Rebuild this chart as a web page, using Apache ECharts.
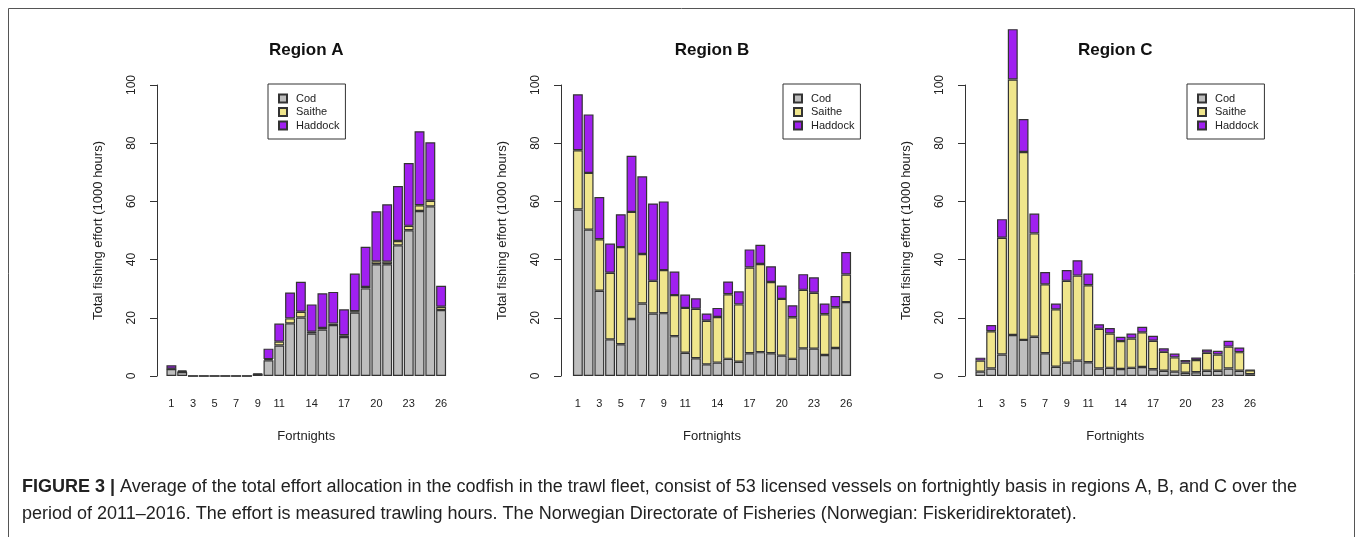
<!DOCTYPE html>
<html>
<head>
<meta charset="utf-8">
<script src="https://cdn.jsdelivr.net/npm/echarts@6/dist/echarts.min.js"></script>
<style>
html,body{margin:0;padding:0;background:#fff;}
#chart{width:1357px;height:537px;}
</style>
</head>
<body>
<div id="chart"></div>
<script>
const fortnights = ['1','2','3','4','5','6','7','8','9','10','11','12','13','14','15','16','17','18','19','20','21','22','23','24','25','26'];
const shownTicks = ['1','3','5','7','9','11','14','17','20','23','26'];
const speciesNames = ['Cod','Saithe','Haddock'];
const regionTitles = ['Region A','Region B','Region C'];

const codA     = [2.4,1.4,0,0,0,0,0,0,0.5,5.4,10.5,18.1,20.1,14.6,16.0,17.5,13.4,21.8,30.1,38.4,38.4,44.9,50.1,56.7,58.3,22.7];
const saitheA  = [0.1,0.2,0,0,0,0,0,0,0.1,0.4,1.3,1.7,2.0,0.6,0.5,0.5,0.6,0.5,0.5,1.0,0.9,1.5,1.5,2.0,1.9,1.1];
const haddockA = [1.2,0.4,0,0,0,0,0,0,0.3,3.6,6.2,8.9,10.3,9.4,11.9,10.9,8.9,12.9,13.8,17.2,19.7,18.9,21.6,25.4,20.1,7.2];

const codB     = [57.2,50.3,29.3,12.6,10.9,19.6,24.9,21.5,21.6,13.7,8.0,6.1,4.0,4.6,5.9,4.9,7.8,8.2,7.8,7.0,5.9,9.5,9.4,7.2,9.6,25.4];
const saitheB  = [20.4,19.5,17.7,22.9,33.4,36.8,17.0,11.2,14.8,14.1,15.4,17.0,15.0,15.7,22.2,19.7,29.5,30.3,24.5,19.5,14.3,20.1,19.2,14.0,14.0,9.5];
const haddockB = [19.2,20.1,14.5,10.0,11.3,19.3,26.7,26.6,23.6,8.1,4.6,3.6,2.5,3.1,4.4,4.5,6.2,6.6,5.4,4.6,4.1,5.4,5.3,3.7,3.9,7.7];

const codC     = [1.5,2.6,7.4,14.1,12.4,13.5,7.8,3.2,4.6,5.3,4.7,2.6,2.8,2.4,2.8,3.1,2.3,1.8,1.5,1.1,1.3,1.8,1.8,2.6,1.8,0.6];
const saitheC  = [3.8,12.8,40.1,87.8,64.6,35.5,23.7,19.7,28.1,29.2,26.5,13.6,11.8,9.6,10.1,11.9,9.8,6.5,4.9,3.5,4.2,6.2,5.6,7.5,6.4,1.4];
const haddockC = [1.0,2.1,6.4,17.3,11.3,6.8,4.2,2.0,3.7,5.3,4.0,1.6,1.9,1.5,1.7,1.9,1.7,1.2,1.3,0.9,0.9,1.1,1.3,2.0,1.6,0.1];

const regionData = [[codA,saitheA,haddockA],[codB,saitheB,haddockB],[codC,saitheC,haddockC]];
const colors = ['#bebebe','#f0e68c','#a020f0'];

const FONT = '"Liberation Sans", Arial, Helvetica, sans-serif';
const grids = [
  {left:166, width:280.5, offset:9, legendLeft:268},
  {left:572.5, width:279, offset:11.5, legendLeft:783},
  {left:975, width:280.5, offset:10, legendLeft:1187}
];

const option = {
  animation:false,
  backgroundColor:'#fff',
  legend: grids.map((g,i)=>({
    data: speciesNames, orient:'vertical', left:g.legendLeft, top:84,
    itemWidth:8, itemHeight:8, itemGap:2.5, icon:'rect',
    borderColor:'#333', borderWidth:1, borderRadius:0,
    padding:[9,6,8,10], selectedMode:false,
    textStyle:{fontFamily:FONT, fontSize:11, color:'#222', padding:[0,0,0,4]}
  })),
  grid: grids.map(g=>({left:g.left, width:g.width, top:85, height:291})),
  xAxis: grids.map((g,i)=>({
    type:'category', gridIndex:i, data:fortnights,
    axisLine:{show:false}, axisTick:{show:false},
    axisLabel:{interval:0, margin:22, fontFamily:FONT, fontSize:11, color:'#222',
      formatter: v => shownTicks.includes(v) ? v : ''},
    name:'Fortnights', nameLocation:'middle', nameGap:54,
    nameTextStyle:{fontFamily:FONT, fontSize:13, color:'#222'}
  })),
  yAxis: grids.map((g,i)=>({
    type:'value', gridIndex:i, min:0, max:100, interval:20, offset:g.offset,
    axisLine:{show:true, lineStyle:{color:'#333', width:1}},
    axisTick:{show:true, length:7, lineStyle:{color:'#333'}},
    splitLine:{show:false},
    axisLabel:{rotate:90, margin:19, fontFamily:FONT, fontSize:12, color:'#222'},
    name:'Total fishing effort (1000 hours)', nameLocation:'middle', nameGap:52,
    nameTextStyle:{fontFamily:FONT, fontSize:13, color:'#222'}
  })),
  series: []
};

regionData.forEach((arrs, gi) => {
  arrs.forEach((vals, si) => {
    option.series.push({
      type:'bar', name:speciesNames[si], xAxisIndex:gi, yAxisIndex:gi,
      stack:'r'+gi, data:vals, barCategoryGap:'8%', clip:false,
      itemStyle:{color:colors[si], borderColor:'#333', borderWidth:1.2},
      emphasis:{disabled:true}
    });
  });
});

option.graphic = [
  {type:'rect', shape:{x:8.5, y:8.5, width:1346, height:540}, style:{fill:'none', stroke:'#555', lineWidth:1}, silent:true},
  ...grids.map((g,i)=>({type:'text', x:g.left + g.width/2, y:50, style:{
    text:regionTitles[i], textAlign:'center', textVerticalAlign:'middle',
    fontFamily:FONT, fontWeight:'bold', fontSize:17, fill:'#111'}})),
  {type:'text', x:22, y:487, style:{
    textVerticalAlign:'middle',
    rich:{b:{fontFamily:FONT, fontWeight:'bold', fontSize:18, fill:'#222'}, n:{fontFamily:FONT, fontSize:18, fill:'#222'}},
    text:'{b|FIGURE 3 |}{n| Average of the total effort allocation in the codfish in the trawl fleet, consist of 53 licensed vessels on fortnightly basis in regions A, B, and C over the}'
  }},
  {type:'text', x:22, y:514, style:{
    textVerticalAlign:'middle',
    fontFamily:FONT, fontSize:18, fill:'#222',
    text:'period of 2011\u20132016. The effort is measured trawling hours. The Norwegian Directorate of Fisheries (Norwegian: Fiskeridirektoratet).'
  }}
];

const chart = echarts.init(document.getElementById('chart'), null, {renderer:'canvas'});
chart.setOption(option);
</script>
</body>
</html>
